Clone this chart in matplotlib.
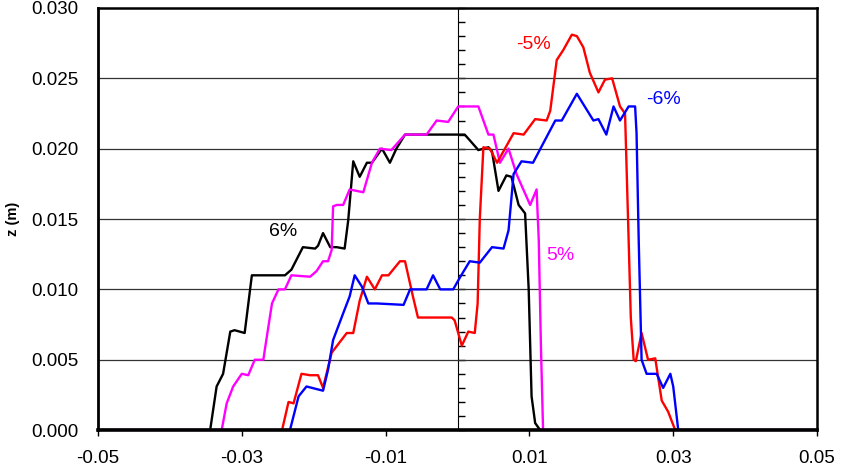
import numpy as np
import matplotlib
matplotlib.use("Agg")
import matplotlib.pyplot as plt

plt.rcParams['font.family'] = ['Liberation Sans', 'DejaVu Sans']

# profile 6% (black)
x_p6 = [-0.050, -0.0344, -0.0335, -0.0326, -0.0316, -0.0310, -0.0296, -0.0286,
        -0.0279, -0.0240, -0.0231, -0.0215, -0.0198, -0.0194, -0.0187, -0.0177,
        -0.0168, -0.0157, -0.0152, -0.0145, -0.0136, -0.0126, -0.0119, -0.0105,
        -0.0094, -0.0085, -0.0073, -0.0066, 0.0010, 0.0017, 0.0029, 0.0043,
        0.0048, 0.0057, 0.0068, 0.0075, 0.0085, 0.0094, 0.0099, 0.0103,
        0.0108, 0.0115, 0.050]
z_p6 = [0.0, 0.0, 0.0031, 0.0040, 0.0070, 0.0071, 0.0069, 0.0110,
        0.0110, 0.0110, 0.0114, 0.0130, 0.0129, 0.0131, 0.0140, 0.0130,
        0.0130, 0.0129, 0.0149, 0.0191, 0.0180, 0.0190, 0.0190, 0.0200,
        0.0190, 0.0200, 0.0210, 0.0210, 0.0210, 0.0206, 0.0199, 0.0201,
        0.0198, 0.0170, 0.0181, 0.0180, 0.0160, 0.0154, 0.0100, 0.0024,
        0.0005, 0.0, 0.0]

# profile 5% (magenta)
x_p5 = [-0.050, -0.0328, -0.0321, -0.0312, -0.0300, -0.0291, -0.0282, -0.0270,
        -0.0268, -0.0258, -0.0249, -0.0240, -0.0231, -0.0205, -0.0196, -0.0187,
        -0.0180, -0.0175, -0.0173, -0.0168, -0.0159, -0.0150, -0.0131, -0.0119,
        -0.0108, -0.0092, -0.0073, -0.0043, -0.0029, -0.0013, 0.0001, 0.0029,
        0.0043, 0.0050, 0.0059, 0.0071, 0.0082, 0.0101, 0.0110, 0.0113,
        0.0116, 0.0119, 0.050]
z_p5 = [0.0, 0.0, 0.0019, 0.0031, 0.0040, 0.0039, 0.0050, 0.0050,
        0.0057, 0.0090, 0.0100, 0.0100, 0.0110, 0.0109, 0.0113, 0.0120,
        0.0120, 0.0128, 0.0159, 0.0160, 0.0160, 0.0171, 0.0169, 0.0190,
        0.0200, 0.0199, 0.0210, 0.0210, 0.0220, 0.0219, 0.0230, 0.0230,
        0.0210, 0.0210, 0.0190, 0.0200, 0.0182, 0.0160, 0.0171, 0.0135,
        0.0060, 0.0, 0.0]

# profile -5% (red)
x_m5 = [-0.050, -0.0244, -0.0235, -0.0228, -0.0217, -0.0205, -0.0194, -0.0187,
        -0.0175, -0.0154, -0.0145, -0.0136, -0.0126, -0.0115, -0.0105, -0.0096,
        -0.0080, -0.0073, -0.0062, -0.0055, -0.0043, -0.0008, -0.0004, 0.0006,
        0.0015, 0.0024, 0.0028, 0.0031, 0.0036, 0.0045, 0.0055, 0.0078,
        0.0092, 0.0108, 0.0124, 0.0129, 0.0138, 0.0147, 0.0159, 0.0166,
        0.0175, 0.0184, 0.0196, 0.0205, 0.0215, 0.0226, 0.0233, 0.0238,
        0.0241, 0.0245, 0.0248, 0.0256, 0.0265, 0.0275, 0.0284, 0.0293,
        0.0302, 0.0305, 0.050]
z_m5 = [0.0, 0.0, 0.0020, 0.0019, 0.0040, 0.0039, 0.0039, 0.0030,
        0.0055, 0.0069, 0.0069, 0.0092, 0.0109, 0.0100, 0.0110, 0.0110,
        0.0120, 0.0120, 0.0095, 0.0080, 0.0080, 0.0080, 0.0078, 0.0060,
        0.0070, 0.0069, 0.0090, 0.0150, 0.0201, 0.0200, 0.0190, 0.0211,
        0.0210, 0.0221, 0.0220, 0.0227, 0.0263, 0.0270, 0.0281, 0.0280,
        0.0272, 0.0254, 0.0240, 0.0249, 0.0250, 0.0230, 0.0225, 0.0135,
        0.0080, 0.0050, 0.0049, 0.0069, 0.0050, 0.0051, 0.0021, 0.0013,
        0.0001, 0.0, 0.0]

# profile -6% (blue)
x_m6 = [-0.050, -0.0233, -0.0221, -0.0210, -0.0187, -0.0180, -0.0173, -0.0159,
        -0.0150, -0.0143, -0.0133, -0.0124, -0.0112, -0.0075, -0.0066, -0.0043,
        -0.0034, -0.0024, -0.0006, 0.0004, 0.0017, 0.0031, 0.0048, 0.0064,
        0.0071, 0.0078, 0.0089, 0.0105, 0.0136, 0.0145, 0.0166, 0.0189,
        0.0196, 0.0207, 0.0217, 0.0226, 0.0238, 0.0247, 0.0249, 0.0252,
        0.0256, 0.0263, 0.0277, 0.0286, 0.0296, 0.0300, 0.0307, 0.050]
z_m6 = [0.0, 0.0, 0.0024, 0.0031, 0.0028, 0.0043, 0.0064, 0.0083,
        0.0095, 0.0110, 0.0102, 0.0090, 0.0090, 0.0089, 0.0100, 0.0100,
        0.0110, 0.0100, 0.0100, 0.0109, 0.0120, 0.0119, 0.0130, 0.0129,
        0.0142, 0.0182, 0.0191, 0.0190, 0.0220, 0.0220, 0.0239, 0.0220,
        0.0221, 0.0210, 0.0230, 0.0220, 0.0230, 0.0230, 0.0211, 0.0135,
        0.0050, 0.0040, 0.0040, 0.0030, 0.0040, 0.0031, 0.0, 0.0]

series = [
    (x_p6, z_p6, 'black', '6%', (-0.0243, 0.0141)),
    (x_p5, z_p5, '#FF00FF', '5%', (0.0143, 0.0124)),
    (x_m5, z_m5, '#FF0000', '-5%', (0.0105, 0.0274)),
    (x_m6, z_m6, '#0000FF', '-6%', (0.0286, 0.0235)),
]

x_ticks = [-0.05, -0.03, -0.01, 0.01, 0.03, 0.05]
z_ticks = [0.000, 0.005, 0.010, 0.015, 0.020, 0.025, 0.030]

fig = plt.figure(figsize=(8.41, 4.67), dpi=100)
ax = fig.add_axes([0.1165, 0.079, 0.855, 0.904])

for z in z_ticks[1:-1]:
    ax.axhline(z, color='#333333', lw=0.9, zorder=1)

for xs, zs, col, lab, pos in series:
    ax.plot(xs, zs, color=col, lw=1.7, solid_joinstyle='round', zorder=3)
    ax.text(pos[0], pos[1], lab, color=col, fontsize=14, ha='center', va='center')

ax.set_xlim(-0.05, 0.05)
ax.set_ylim(0, 0.030)
ax.set_xticks(x_ticks)
ax.set_xticklabels(['%.2f' % v for v in x_ticks])
ax.set_yticks(z_ticks)
ax.set_yticklabels(['%.3f' % v for v in z_ticks])
ax.tick_params(axis='x', direction='out', length=4, width=1, labelsize=13.5, pad=10)
ax.tick_params(axis='y', length=0, labelsize=13.5, pad=14)
ax.set_ylabel('z (m)', fontsize=10.5, fontweight='bold', labelpad=8)

ax.spines['left'].set_linewidth(2)
ax.spines['top'].set_linewidth(1.8)
ax.spines['right'].set_linewidth(1.8)
ax.spines['bottom'].set_linewidth(2.6)
for s in ax.spines.values():
    s.set_zorder(5)

# vertical axis through x = 0 with small ticks to the right
mid = ax.secondary_yaxis(0.5)
mid.spines['left'].set_linewidth(1.0)
mid.yaxis.set_ticks_position('right')
mid.set_yticks(z_ticks)
mid.set_yticks(np.arange(0, 0.0301, 0.001), minor=True)
mid.tick_params(which='both', direction='out', length=5, width=1,
                labelright=False, labelleft=False)

fig.savefig('out.png', dpi=100)
